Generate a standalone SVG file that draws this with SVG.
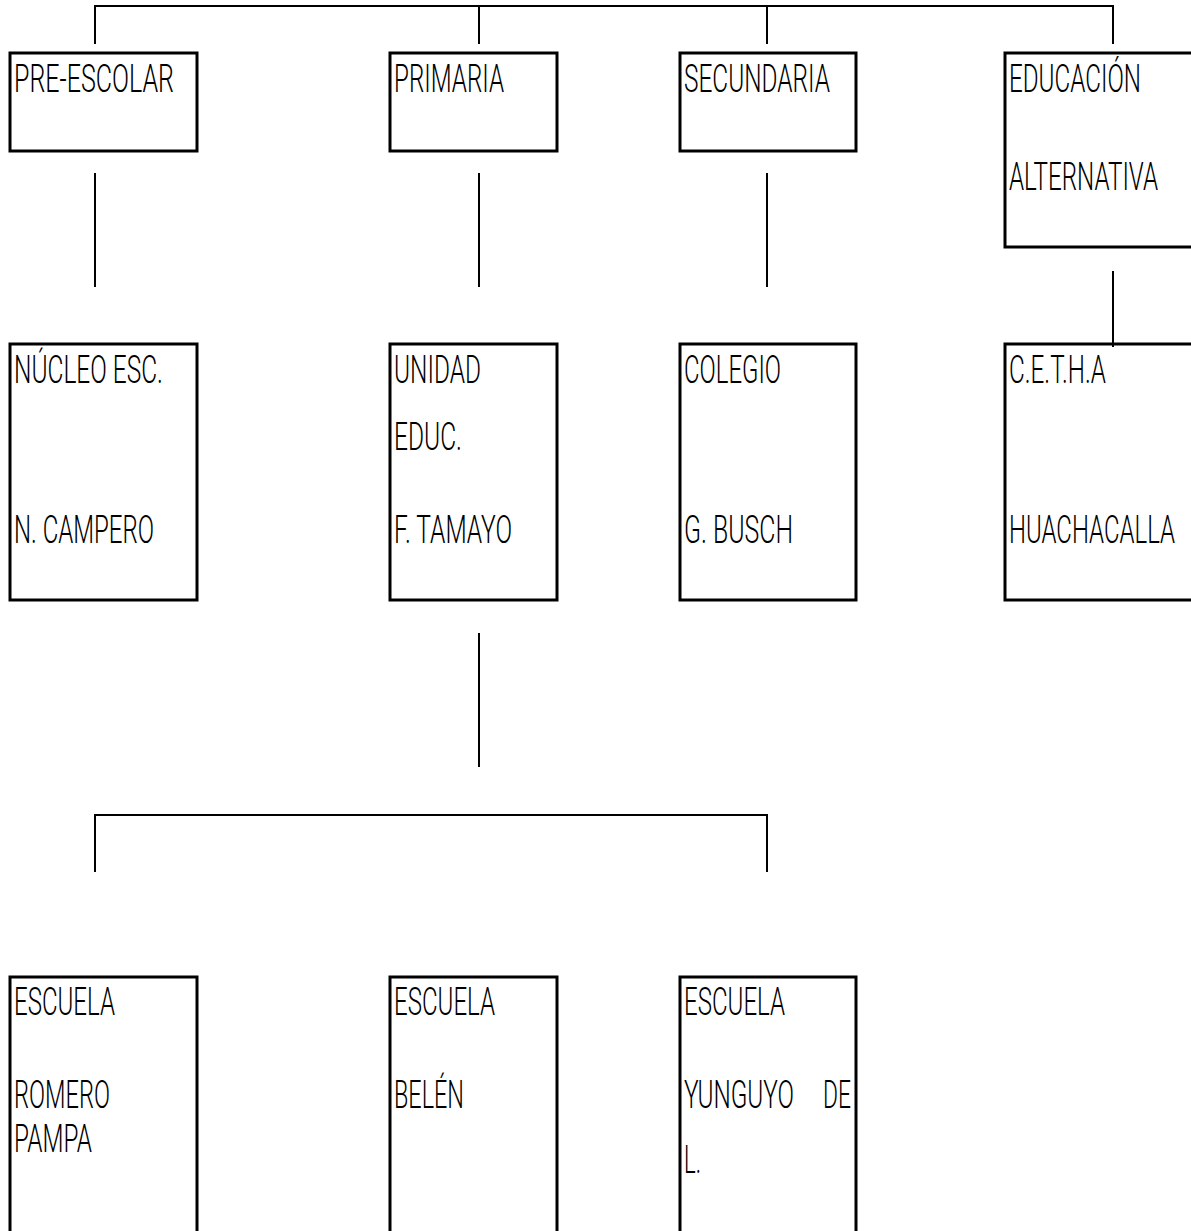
<svg xmlns="http://www.w3.org/2000/svg" width="1191" height="1231" viewBox="0 0 1191 1231">
<style>
.box{fill:#fff;stroke:#000;stroke-width:3}
.con{fill:none;stroke:#000;stroke-width:2}
text{font-family:Roboto,"Liberation Sans",sans-serif;font-weight:300;font-size:24px;fill:#000}
</style>
<rect width="1191" height="1231" fill="#fff"/>
<g id="connectors">
<path class="con" d="M95,44 V6 H1113 V44"/>
<path class="con" d="M479,6 V44"/>
<path class="con" d="M767,6 V44"/>
<path class="con" d="M95,173 V287"/>
<path class="con" d="M479,173 V287"/>
<path class="con" d="M767,173 V287"/>
<path class="con" d="M1113,271 V347"/>
<path class="con" d="M479,633 V767"/>
<path class="con" d="M95,872 V815 H767 V872"/>
</g>
<g id="preescolar"><rect class="box" x="10" y="53" width="187" height="98"/><text x="14" y="92" transform="matrix(1 0 0 1.625 0 -57.5)" textLength="160" lengthAdjust="spacingAndGlyphs">PRE-ESCOLAR</text></g>
<g id="primaria"><rect class="box" x="390" y="53" width="167" height="98"/><text x="394" y="92" transform="matrix(1 0 0 1.625 0 -57.5)" textLength="110" lengthAdjust="spacingAndGlyphs">PRIMARIA</text></g>
<g id="secundaria"><rect class="box" x="680" y="53" width="176" height="98"/><text x="684" y="92" transform="matrix(1 0 0 1.625 0 -57.5)" textLength="146" lengthAdjust="spacingAndGlyphs">SECUNDARIA</text></g>
<g id="educacion"><rect class="box" x="1005" y="53" width="200" height="194"/><text x="1009" y="92" transform="matrix(1 0 0 1.625 0 -57.5)" textLength="132" lengthAdjust="spacingAndGlyphs">EDUCACIÓN</text><text x="1009" y="190" transform="matrix(1 0 0 1.625 0 -118.75)" textLength="149" lengthAdjust="spacingAndGlyphs">ALTERNATIVA</text></g>
<g id="nucleo"><rect class="box" x="10" y="344" width="187" height="256"/><text x="14" y="383" transform="matrix(1 0 0 1.625 0 -239.375)" textLength="149" lengthAdjust="spacingAndGlyphs">NÚCLEO ESC.</text><text x="14" y="543" transform="matrix(1 0 0 1.625 0 -339.375)" textLength="140" lengthAdjust="spacingAndGlyphs">N. CAMPERO</text></g>
<g id="unidad"><rect class="box" x="390" y="344" width="167" height="256"/><text x="394" y="383" transform="matrix(1 0 0 1.625 0 -239.375)" textLength="87" lengthAdjust="spacingAndGlyphs">UNIDAD</text><text x="394" y="450" transform="matrix(1 0 0 1.625 0 -281.25)" textLength="68" lengthAdjust="spacingAndGlyphs">EDUC.</text><text x="394" y="543" transform="matrix(1 0 0 1.625 0 -339.375)" textLength="118" lengthAdjust="spacingAndGlyphs">F. TAMAYO</text></g>
<g id="colegio"><rect class="box" x="680" y="344" width="176" height="256"/><text x="684" y="383" transform="matrix(1 0 0 1.625 0 -239.375)" textLength="97" lengthAdjust="spacingAndGlyphs">COLEGIO</text><text x="684" y="543" transform="matrix(1 0 0 1.625 0 -339.375)" textLength="109" lengthAdjust="spacingAndGlyphs">G. BUSCH</text></g>
<g id="cetha"><rect class="box" x="1005" y="344" width="200" height="256"/><text x="1009" y="383" transform="matrix(1 0 0 1.625 0 -239.375)" textLength="97" lengthAdjust="spacingAndGlyphs">C.E.T.H.A</text><text x="1009" y="543" transform="matrix(1 0 0 1.625 0 -339.375)" textLength="166" lengthAdjust="spacingAndGlyphs">HUACHACALLA</text></g>
<path class="con" d="M1113,340 V347"/>
<g id="romero"><rect class="box" x="10" y="977" width="187" height="300"/><text x="14" y="1015" transform="matrix(1 0 0 1.625 0 -634.375)" textLength="101" lengthAdjust="spacingAndGlyphs">ESCUELA</text><text x="14" y="1108" transform="matrix(1 0 0 1.625 0 -692.5)" textLength="96" lengthAdjust="spacingAndGlyphs">ROMERO</text><text x="14" y="1152" transform="matrix(1 0 0 1.625 0 -720)" textLength="78" lengthAdjust="spacingAndGlyphs">PAMPA</text></g>
<g id="belen"><rect class="box" x="390" y="977" width="167" height="300"/><text x="394" y="1015" transform="matrix(1 0 0 1.625 0 -634.375)" textLength="101" lengthAdjust="spacingAndGlyphs">ESCUELA</text><text x="394" y="1108" transform="matrix(1 0 0 1.625 0 -692.5)" textLength="70" lengthAdjust="spacingAndGlyphs">BELÉN</text></g>
<g id="yunguyo"><rect class="box" x="680" y="977" width="176" height="300"/><text x="684" y="1015" transform="matrix(1 0 0 1.625 0 -634.375)" textLength="101" lengthAdjust="spacingAndGlyphs">ESCUELA</text><text x="684" y="1108" transform="matrix(1 0 0 1.625 0 -692.5)" textLength="110" lengthAdjust="spacingAndGlyphs">YUNGUYO</text><text x="823" y="1108" transform="matrix(1 0 0 1.625 0 -692.5)" textLength="28" lengthAdjust="spacingAndGlyphs">DE</text><text x="684" y="1173" transform="matrix(1 0 0 1.625 0 -733.125)" textLength="17" lengthAdjust="spacingAndGlyphs">L.</text></g>
</svg>
